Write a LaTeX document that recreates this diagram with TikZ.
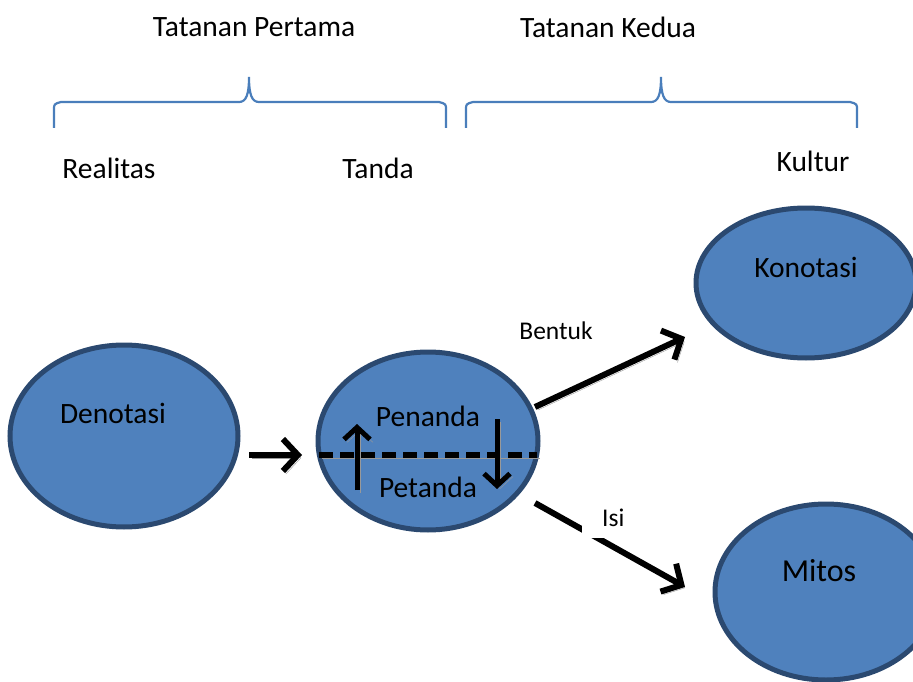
\documentclass[tikz,border=0pt]{standalone}
\usepackage{fontspec}
\setmainfont{Carlito}
\usetikzlibrary{shapes.geometric,arrows.meta}
\definecolor{ovalfill}{HTML}{4F81BD}
\definecolor{ovaledge}{HTML}{2B4970}
\definecolor{bracecol}{HTML}{4A7EBB}
\tikzset{
  oval/.style={ellipse, draw=ovaledge, fill=ovalfill, line width=5pt, inner sep=0pt},
  shadowed/.style={preaction={draw=black!40, transform canvas={xshift=3pt,yshift=-3pt}}},
  bigarrow/.style={shadowed, line width=6pt, -{Straight Barb[length=15pt,width=32pt]}},
  smallarrow/.style={shadowed, line width=5pt, -{Straight Barb[length=12pt,width=26pt]}},
  divider/.style={shadowed, line width=6pt, dash pattern=on 14pt off 7pt},
  lbl/.style={font=\fontsize{29.5}{34}\selectfont, inner sep=0pt},
  smalllbl/.style={font=\fontsize{25.5}{30}\selectfont, inner sep=0pt},
}
\begin{document}
\begin{tikzpicture}[x=1pt,y=-1pt]
    \useasboundingbox (0,0) rectangle (913,682);
    % headings
    \node[lbl] (pertama) at (254,27) {Tatanan Pertama};
    \node[lbl] (kedua) at (608,27) {Tatanan Kedua};
    \node[lbl] (realitas) at (109,168) {Realitas};
    \node[lbl] (tanda) at (378,168) {Tanda};
    \node[lbl] (kultur) at (813,161) {Kultur};

    % braces
    \foreach \l/\m/\r in {54/249/446, 466/661/857}
        \draw[bracecol, line width=2.2pt] (\l,128) -- (\l,110) .. controls (\l,104) .. (\l+7,102)
            -- (\m-10,102) .. controls (\m-3,102) and (\m,95) .. (\m,77)
            .. controls (\m,95) and (\m+3,102) .. (\m+10,102)
            -- (\r-7,102) .. controls (\r,104) .. (\r,110) -- (\r,128);

    % ovals
    \node[oval, minimum width=228pt, minimum height=182pt] (denotasi) at (124,436) {};
    \node[oval, minimum width=220pt, minimum height=178pt] (tandaoval) at (428,441) {};
    \node[oval, minimum width=220pt, minimum height=150pt] (konotasi) at (806,283) {};
    \node[oval, minimum width=222pt, minimum height=176pt] (mitos) at (826,592) {};

    \node[lbl] (dentext) at (113,413) {Denotasi};
    \node[lbl] (penanda) at (428,416) {Penanda};
    \node[lbl] (petanda) at (428,487) {Petanda};
    \node[lbl] (kontext) at (806,267) {Konotasi};
    \node[font=\fontsize{32}{36}\selectfont, inner sep=0pt] (mitostext) at (819,571) {Mitos};

    % inside the sign
    \coordinate (divl) at (319,455); \coordinate (divr) at (537,455);
    \draw[divider] (divl) -- (divr);
    \coordinate (upfrom) at (357,490); \coordinate (upto) at (357,424);
    \coordinate (downfrom) at (497,419); \coordinate (downto) at (497,489);
    \draw[smallarrow] (upfrom) -- (upto);
    \draw[smallarrow] (downfrom) -- (downto);

    % arrows
    \coordinate (a1) at (249,455); \coordinate (b1) at (302,455);
    \coordinate (a2) at (535,407); \coordinate (b2) at (685,337);
    \coordinate (a3) at (535,503); \coordinate (b3) at (685,587);
    \draw[bigarrow] (a1) -- (b1);
    \draw[bigarrow] (a2) -- (b2);
    \draw[bigarrow] (a3) -- (b3);

    \node[smalllbl] (bentuk) at (556,331) {Bentuk};
    \node[smalllbl, fill=white, anchor=south west, inner xsep=20pt, inner ysep=11pt, text depth=0pt] (isi) at (582,538) {Isi};
\end{tikzpicture}
\end{document}
